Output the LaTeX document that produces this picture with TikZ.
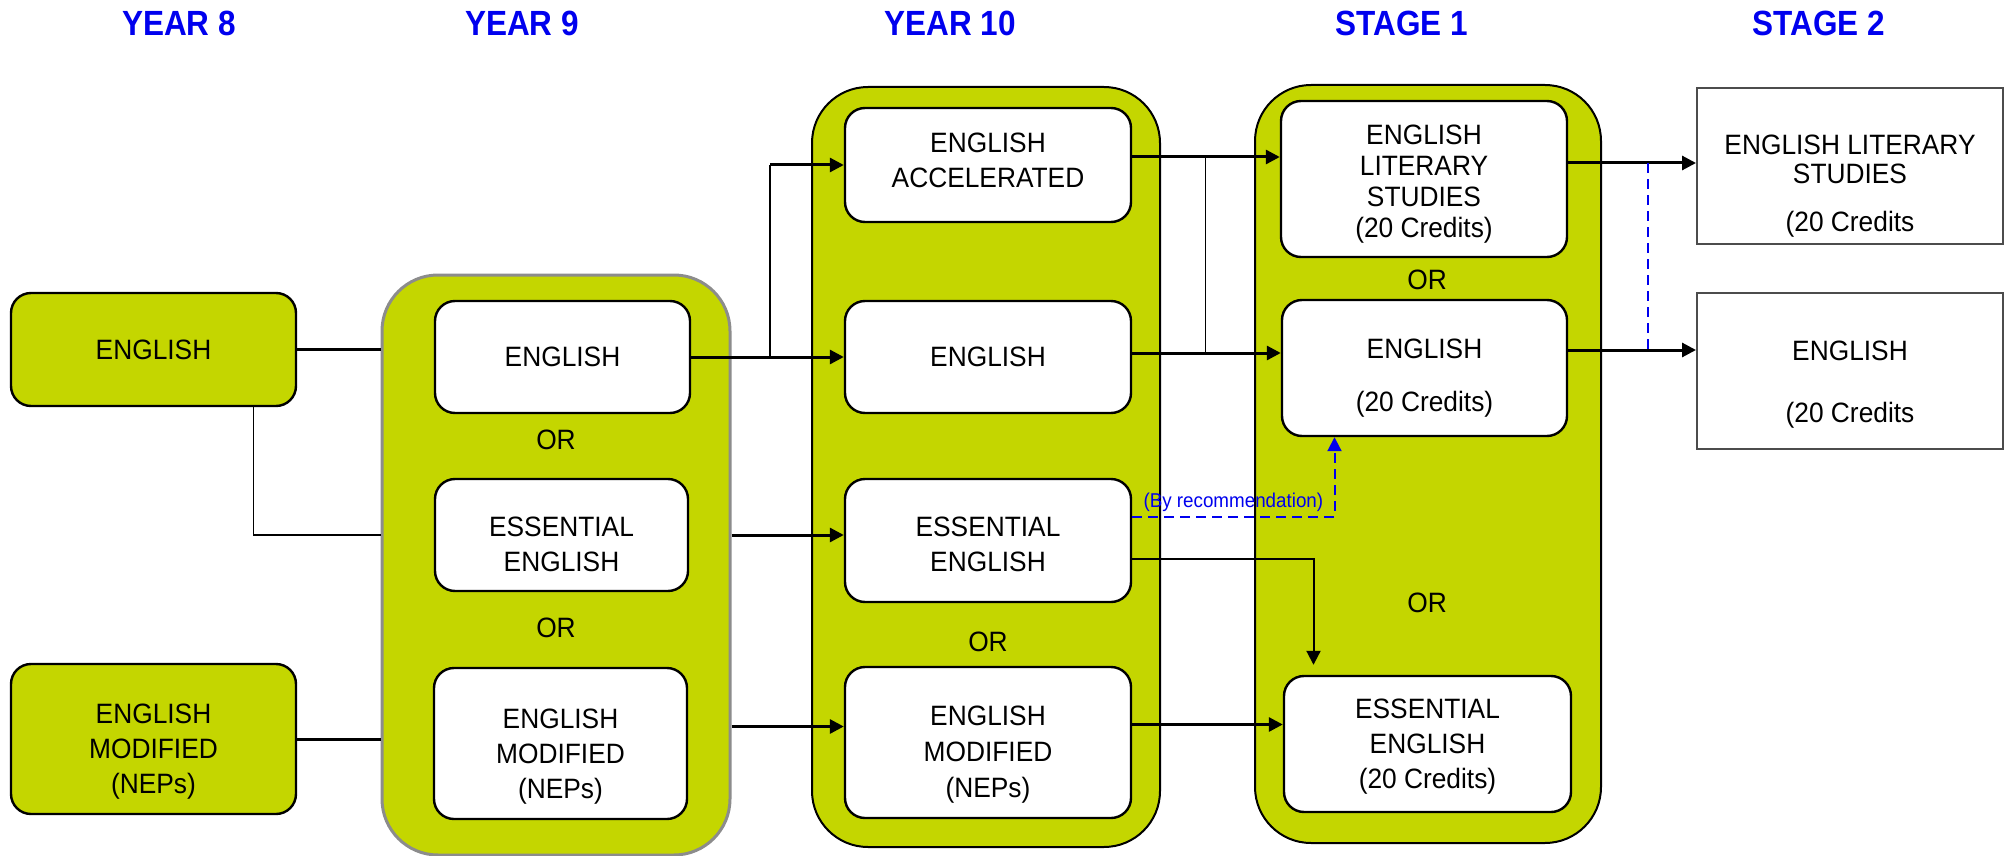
\documentclass[tikz,border=0pt]{standalone}
\usepackage{fontspec}
\setmainfont{Liberation Sans}[FakeStretch=0.94]
\newfontfamily\headfont{Liberation Sans}[FakeStretch=0.9]
\usetikzlibrary{arrows.meta}
\definecolor{pathgreen}{HTML}{C4D600}
\definecolor{titleblue}{HTML}{0000EE}
\newcommand\topgap[1]{\rule{0pt}{#1}}
\newcommand\bottomgap[1]{\rule[-#1]{0pt}{0pt}}
\begin{document}
\begin{tikzpicture}
        [x=0.5pt, y=-0.5pt,
        heading/.style={font=\headfont\bfseries\fontsize{17.5}{20}\selectfont, text=titleblue},
        yearbox/.style={draw=black, fill=pathgreen, rounded corners=28pt, line width=1pt, inner sep=0pt},
        greenbox/.style={draw=black, fill=pathgreen, rounded corners=10pt, line width=1.2pt,
          align=center, inner sep=0pt, font=\fontsize{14}{17.5}\selectfont},
        course/.style={greenbox, fill=white},
        stagebox/.style={draw=black!70, fill=white, line width=1pt, align=center, inner sep=0pt,
          font=\fontsize{14}{17.5}\selectfont},
        ortext/.style={font=\fontsize{14}{17.5}\selectfont, inner sep=0pt},
        link/.style={line width=1.5pt},
        thinlink/.style={line width=0.7pt},
        arrow/.style={link, -{Triangle[length=7pt,width=7pt]}},
        thinarrow/.style={line width=1pt, -{Triangle[length=7pt,width=7pt]}},
        recline/.style={titleblue, line width=1pt, dash pattern=on 5pt off 3pt},
        recarrow/.style={recline, -{Triangle[length=7pt,width=7pt]}},
        ]
        \useasboundingbox (0,0) rectangle (2008,856);

        \node[heading] (h8) at (179,23) {YEAR 8};
        \node[heading] (h9) at (522,23) {YEAR 9};
        \node[heading] (h10) at (950,23) {YEAR 10};
        \node[heading] (hs1) at (1402,23) {STAGE 1};
        \node[heading] (hs2) at (1819,23) {STAGE 2};

        \node[yearbox, draw=black!45, line width=1.5pt, minimum width=174pt, minimum height=290pt] (y9) at (556,565) {};
        \node[yearbox, minimum width=174pt, minimum height=380pt] (y10) at (986,467) {};
        \node[yearbox, minimum width=173pt, minimum height=379pt] (s1) at (1428,464) {};

        % year 8
        \node[greenbox, minimum width=142.5pt, minimum height=56.5pt] (e8) at (153.5,349.5) {ENGLISH};
        \node[greenbox, minimum width=142.5pt, minimum height=75pt] (m8) at (153.5,739)
          {\topgap{22pt}ENGLISH\\MODIFIED\\(NEPs)};

        % year 9
        \node[course, minimum width=127.5pt, minimum height=56pt] (e9) at (562.5,357) {ENGLISH};
        \node[ortext] (or9a) at (556,440) {OR};
        \node[course, minimum width=126.5pt, minimum height=56pt] (ess9) at (561.5,535)
          {\topgap{19pt}ESSENTIAL\\ENGLISH};
        \node[ortext] (or9b) at (556,628) {OR};
        \node[course, minimum width=126.5pt, minimum height=75.5pt] (m9) at (560.5,743.5)
          {\topgap{23pt}ENGLISH\\MODIFIED\\(NEPs)};

        % year 10
        \node[course, minimum width=143pt, minimum height=57pt] (acc10) at (988,165)
          {ENGLISH\\ACCELERATED\bottomgap{5pt}};
        \node[course, minimum width=143pt, minimum height=56pt] (e10) at (988,357) {ENGLISH};
        \node[course, minimum width=143pt, minimum height=61.5pt] (ess10) at (988,540.5)
          {\topgap{14pt}ESSENTIAL\\ENGLISH};
        \node[ortext] (or10) at (988,642) {OR};
        \node[course, minimum width=143pt, minimum height=75.5pt] (m10) at (988,742.5)
          {\topgap{22pt}ENGLISH\\[0.5pt]MODIFIED\\[0.5pt](NEPs)};

        % stage 1
        \node[course, minimum width=143pt, minimum height=78pt] (lit1) at (1424,179)
          {\topgap{15pt}ENGLISH\\[-2pt]LITERARY\\[-2pt]STUDIES\\[-2pt](20 Credits)};
        \node[ortext] (or1a) at (1427,280) {OR};
        \node[course, minimum width=142.5pt, minimum height=68pt] (e1) at (1424.5,368)
          {\topgap{20pt}ENGLISH\\[9pt](20 Credits)};
        \node[ortext] (or1b) at (1427,603) {OR};
        \node[course, minimum width=143.5pt, minimum height=68pt] (ess1) at (1427.5,744)
          {\topgap{12pt}ESSENTIAL\\ENGLISH\\(20 Credits)};

        % stage 2
        \node[stagebox, minimum width=153pt, minimum height=78pt] (lit2) at (1850,166)
          {\topgap{30pt}ENGLISH LITERARY\\[-3pt]STUDIES\\[6.5pt](20 Credits};
        \node[stagebox, minimum width=153pt, minimum height=78pt] (e2) at (1850,371)
          {\topgap{23pt}ENGLISH\\[13.5pt](20 Credits};

        % year 8 to year 9
        \draw[link] (e8.east) -- (y9.west |- e8.east);
        \draw[thinlink] ([xshift=50pt]e8.south) |- (y9.west |- ess9.west);
        \draw[link] (m8.east) -- (y9.west |- m8.east);

        % year 9 to year 10
        \coordinate (split) at (770,357);
        \draw[arrow] (e9.east) -- (e10.west);
        \draw[thinlink] (split) -- (split |- acc10.west);
        \draw[arrow] (split |- acc10.west) -- (acc10.west);
        \draw[arrow] (y9.east |- ess9.east) -- (ess10.west |- ess9.east);
        \coordinate (m10in) at ([yshift=8pt]m10.west);
        \draw[arrow] (y9.east |- m10in) -- (m10in);

        % year 10 to stage 1
        \coordinate (accout) at ([yshift=4pt]acc10.east);
        \coordinate (eout) at ([yshift=2pt]e10.east);
        \draw[arrow] (accout) -- (accout -| lit1.west);
        \draw[arrow] (eout) -- (eout -| e1.west);
        \coordinate (jtop) at ([xshift=36.5pt]accout);
        \draw[thinlink] (jtop) -- (jtop |- eout);
        \coordinate (essout) at ([yshift=12pt]ess10.east);
        \draw[recarrow] (essout) -| node[pos=0.25, above=2pt, font=\fontsize{10}{11}\selectfont, inner sep=0pt]
          {(By recommendation)} ([xshift=-45pt]e1.south);
        \coordinate (essdown) at ([yshift=-9pt]ess10.east);
        \draw[thinarrow, shorten >=5pt] (essdown) -| ([xshift=-57pt]ess1.north);
        \coordinate (mout) at ([yshift=9pt]m10.east);
        \draw[arrow] (mout) -- (mout -| ess1.west);

        % stage 1 to stage 2
        \coordinate (litout) at ([yshift=8pt]lit1.east);
        \coordinate (e1out) at ([yshift=9pt]e1.east);
        \draw[arrow] (litout) -- (litout -| lit2.west);
        \draw[arrow] (e1out) -- (e1out -| e2.west);
        \draw[recline] ([xshift=40pt]litout) -- ([xshift=40pt]litout |- e1out);
\end{tikzpicture}
\end{document}
